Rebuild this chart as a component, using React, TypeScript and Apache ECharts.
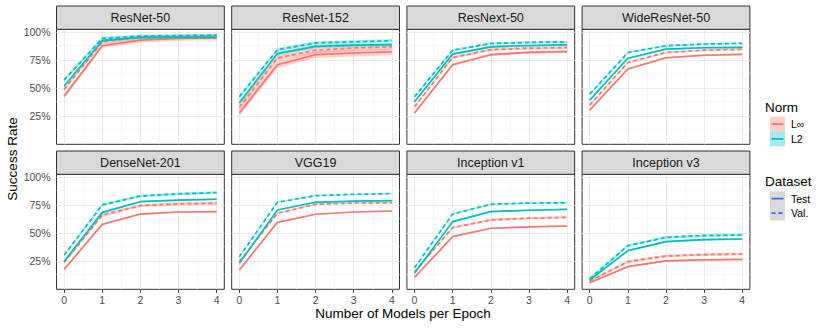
import React, { useEffect, useRef } from "react";
import * as echarts from "echarts";

const panels = ["ResNet-50", "ResNet-152", "ResNext-50", "WideResNet-50", "DenseNet-201", "VGG19", "Inception v1", "Inception v3"];
const epochs = [0, 1, 2, 3, 4];
const yTickValues = [0.25, 0.5, 0.75, 1];
const xMinorValues = [0.5, 1.5, 2.5, 3.5];
const yMinorValues = [0.125, 0.375, 0.625, 0.875];
const normNames = ["L\u221e", "L2"];
const normColors = ["#F8766D", "#00BFC4"];
const datasetNames = ["Test", "Val."];
const datasetColor = "#3366FF";

// one row per panel, values at epochs 0..4
const linfTest = [
  [0.43, 0.88, 0.93, 0.945, 0.95],
  [0.28, 0.71, 0.8, 0.815, 0.825],
  [0.28, 0.71, 0.8, 0.82, 0.827],
  [0.305, 0.672, 0.773, 0.795, 0.803],
  [0.178, 0.58, 0.672, 0.69, 0.693],
  [0.172, 0.598, 0.67, 0.69, 0.699],
  [0.107, 0.47, 0.545, 0.558, 0.565],
  [0.059, 0.202, 0.253, 0.263, 0.268],
];
const linfVal = [
  [0.49, 0.915, 0.955, 0.96, 0.965],
  [0.33, 0.77, 0.84, 0.86, 0.87],
  [0.335, 0.775, 0.845, 0.858, 0.863],
  [0.35, 0.73, 0.82, 0.84, 0.848],
  [0.241, 0.663, 0.747, 0.763, 0.768],
  [0.247, 0.679, 0.759, 0.77, 0.773],
  [0.157, 0.55, 0.619, 0.635, 0.643],
  [0.074, 0.247, 0.297, 0.31, 0.315],
];
const l2Test = [
  [0.52, 0.925, 0.955, 0.955, 0.955],
  [0.37, 0.81, 0.875, 0.885, 0.89],
  [0.38, 0.805, 0.87, 0.882, 0.887],
  [0.395, 0.768, 0.85, 0.862, 0.866],
  [0.247, 0.687, 0.782, 0.797, 0.804],
  [0.232, 0.708, 0.777, 0.787, 0.791],
  [0.143, 0.604, 0.693, 0.706, 0.714],
  [0.083, 0.345, 0.425, 0.443, 0.449],
];
const l2Val = [
  [0.575, 0.945, 0.965, 0.97, 0.975],
  [0.425, 0.845, 0.905, 0.915, 0.925],
  [0.425, 0.84, 0.9, 0.91, 0.915],
  [0.448, 0.818, 0.88, 0.895, 0.902],
  [0.306, 0.753, 0.833, 0.852, 0.863],
  [0.291, 0.777, 0.836, 0.848, 0.854],
  [0.193, 0.672, 0.759, 0.77, 0.773],
  [0.095, 0.39, 0.464, 0.48, 0.485],
];
// ribbon half widths per panel: [LinfTest, LinfVal, L2Test, L2Val]
const bandHalf = [
  [0.02, 0.015, 0.012, 0.015],
  [0.03, 0.025, 0.015, 0.015],
  [0.012, 0.012, 0.01, 0.01],
  [0.008, 0.008, 0.008, 0.008],
  [0.006, 0.015, 0.008, 0.012],
  [0.004, 0.006, 0.006, 0.006],
  [0.005, 0.01, 0.006, 0.008],
  [0.008, 0.012, 0.008, 0.012],
];

const FONT = "'Liberation Sans', Arial, Helvetica, sans-serif";

function alpha(hex: string, a: number) {
  const n = parseInt(hex.slice(1), 16);
  return `rgba(${(n >> 16) & 255},${(n >> 8) & 255},${n & 255},${a})`;
}

export default function App() {
  const ref = useRef<HTMLDivElement>(null);
  useEffect(() => {
    document.body.style.margin = "0";
    const chart = echarts.init(ref.current!, undefined, { renderer: "svg" });

    const colLeft0 = 56.5, colStep = 175.2, panelW = 167.8, panelH = 115;
    const rowTops = [29.3, 174.3];
    const stripTops = [6, 151];

    const grid: any[] = [];
    const xAxis: any[] = [];
    const yAxis: any[] = [];
    const series: any[] = [];
    const graphic: any[] = [];

    const lineSets = [
      { vals: linfTest, norm: 0, ds: 0 },
      { vals: linfVal, norm: 0, ds: 1 },
      { vals: l2Test, norm: 1, ds: 0 },
      { vals: l2Val, norm: 1, ds: 1 },
    ];

    panels.forEach((name, p) => {
      const row = Math.floor(p / 4), col = p % 4;
      const left = colLeft0 + col * colStep;
      const top = rowTops[row];
      grid.push({
        left, top, width: panelW, height: panelH,
        show: true, backgroundColor: "#FFFFFF", borderColor: "#333333", borderWidth: 1, z: 0,
      });
      xAxis.push({
        type: "value", gridIndex: p, min: -0.2, max: 4.2,
        axisLine: { show: false },
        splitLine: { show: false },
        axisTick: row === 1 ? { show: true, customValues: epochs, length: 3.5, lineStyle: { color: "#333333", width: 1 } } : { show: false },
        axisLabel: row === 1 ? { show: true, customValues: epochs, color: "#4D4D4D", fontSize: 10.5, fontWeight: "normal", fontFamily: FONT, margin: 5 } : { show: false },
      });
      yAxis.push({
        type: "value", gridIndex: p, min: 0, max: panelH / 112,
        axisLine: { show: false },
        splitLine: { show: false },
        axisTick: col === 0 ? { show: true, customValues: yTickValues, length: 3.5, lineStyle: { color: "#333333", width: 1 } } : { show: false },
        axisLabel: col === 0 ? {
          show: true, customValues: yTickValues, color: "#4D4D4D", fontSize: 10.5, fontWeight: "normal", fontFamily: FONT, margin: 6,
          formatter: (v: number) => Math.round(v * 100) + "%",
        } : { show: false },
      });

      const gl = (arr: number[], key: string, major: boolean) =>
        arr.map((v) => ({ [key]: v, lineStyle: { color: major ? "#EBEBEB" : "#F4F4F4", width: major ? 1.1 : 0.8, type: "solid" } }));
      series.push({
        type: "line", xAxisIndex: p, yAxisIndex: p, data: [], silent: true, z: 1,
        markLine: {
          silent: true, symbol: ["none", "none"], label: { show: false }, z: 1,
          emphasis: { disabled: true },
          data: [
            ...gl(xMinorValues, "xAxis", false),
            ...gl(yMinorValues, "yAxis", false),
            ...gl(epochs, "xAxis", true),
            ...gl(yTickValues, "yAxis", true),
          ],
        },
      });

      lineSets.forEach((ls, k) => {
        const vals = ls.vals[p];
        const h = bandHalf[p][k];
        const color = normColors[ls.norm];
        series.push({
          type: "custom", xAxisIndex: p, yAxisIndex: p, z: 2, silent: true,
          data: epochs.map((x, i) => [x, vals[i] - h, vals[i] + h]),
          encode: { x: 0, y: [1, 2] },
          renderItem: (params: any, api: any) => {
            if (params.dataIndex !== 0) return null;
            const upper = epochs.map((x, i) => api.coord([x, vals[i] + h]));
            const lower = epochs.map((x, i) => api.coord([x, vals[i] - h])).reverse();
            return { type: "polygon", shape: { points: [...upper, ...lower] }, style: { fill: alpha(color, 0.35), stroke: "none" } };
          },
        });
      });
      lineSets.forEach((ls) => {
        const vals = ls.vals[p];
        const color = normColors[ls.norm];
        series.push({
          type: "line", xAxisIndex: p, yAxisIndex: p, z: 3, silent: true,
          name: normNames[ls.norm] + " " + datasetNames[ls.ds],
          data: epochs.map((x, i) => [x, vals[i]]),
          showSymbol: false, symbol: "none",
          lineStyle: { color, width: 1.7, type: ls.ds === 1 ? [4, 3] : "solid" },
        });
      });

      // strip
      graphic.push({
        type: "rect", silent: true, z: 10,
        shape: { x: left, y: stripTops[row], width: panelW, height: top - stripTops[row] },
        style: { fill: "#D9D9D9", stroke: "#333333", lineWidth: 1 },
      });
      graphic.push({
        type: "text", silent: true, z: 11,
        x: left + panelW / 2, y: (stripTops[row] + top) / 2,
        style: { text: name, fill: "#1A1A1A", fontSize: 12.5, fontWeight: "normal", fontFamily: FONT, align: "center", verticalAlign: "middle" },
      });
    });

    // axis titles
    graphic.push({
      type: "text", silent: true, x: 403, y: 313,
      style: { text: "Number of Models per Epoch", fill: "#000000", fontSize: 13.5, fontWeight: "normal", fontFamily: FONT, align: "center", verticalAlign: "middle" },
    });
    graphic.push({
      type: "text", silent: true, x: 12, y: 159, rotation: Math.PI / 2,
      style: { text: "Success Rate", fill: "#000000", fontSize: 13.5, fontWeight: "normal", fontFamily: FONT, align: "center", verticalAlign: "middle" },
    });

    // legend: Norm
    const legX = 765, keyX = 770, keyW = 15, labX = 791;
    graphic.push({
      type: "text", silent: true, x: legX, y: 107,
      style: { text: "Norm", fill: "#000000", fontSize: 13.5, fontWeight: "normal", fontFamily: FONT, align: "left", verticalAlign: "middle" },
    });
    normNames.forEach((n, i) => {
      const ky = 116.7 + i * 14.8;
      graphic.push({ type: "rect", silent: true, shape: { x: keyX, y: ky, width: keyW, height: 14.8 }, style: { fill: alpha(normColors[i], 0.35) } });
      graphic.push({ type: "line", silent: true, shape: { x1: keyX + 1.5, y1: ky + 7.4, x2: keyX + keyW - 1.5, y2: ky + 7.4 }, style: { stroke: normColors[i], lineWidth: 1.7 } });
      graphic.push({
        type: "text", silent: true, x: labX, y: ky + 7.4,
        style: { text: n, fill: "#000000", fontSize: 10.5, fontWeight: "normal", fontFamily: FONT, align: "left", verticalAlign: "middle" },
      });
    });
    // legend: Dataset
    graphic.push({
      type: "text", silent: true, x: legX, y: 181,
      style: { text: "Dataset", fill: "#000000", fontSize: 13.5, fontWeight: "normal", fontFamily: FONT, align: "left", verticalAlign: "middle" },
    });
    datasetNames.forEach((n, i) => {
      const ky = 191.3 + i * 14.6;
      graphic.push({ type: "rect", silent: true, shape: { x: keyX, y: ky, width: keyW, height: 14.6 }, style: { fill: "#D9D9D9" } });
      graphic.push({
        type: "line", silent: true, shape: { x1: keyX + 1.5, y1: ky + 7.3, x2: keyX + keyW - 1.5, y2: ky + 7.3 },
        style: { stroke: datasetColor, lineWidth: 1.7, lineDash: i === 1 ? [4, 3] : null },
      });
      graphic.push({
        type: "text", silent: true, x: labX, y: ky + 7.3,
        style: { text: n, fill: "#000000", fontSize: 10.5, fontWeight: "normal", fontFamily: FONT, align: "left", verticalAlign: "middle" },
      });
    });

    chart.setOption({
      animation: false,
      textStyle: { fontFamily: FONT, fontWeight: "normal" },
      grid, xAxis, yAxis, series, graphic,
    });
    return () => chart.dispose();
  }, []);
  return <div ref={ref} style={{ width: 830, height: 328 }} />;
}
